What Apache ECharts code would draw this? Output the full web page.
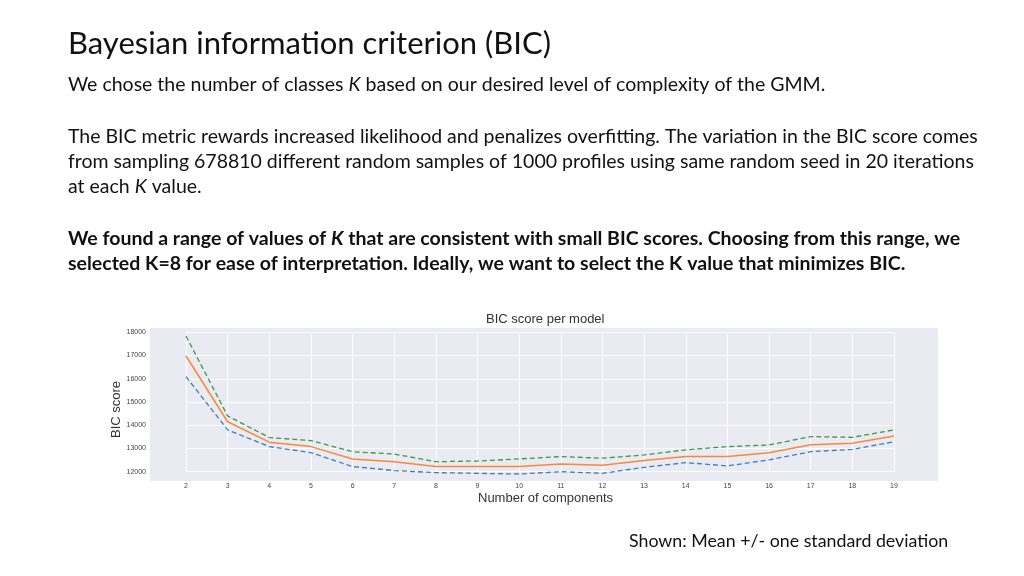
<!DOCTYPE html><html><head><meta charset="utf-8"><script src="https://cdn.jsdelivr.net/npm/echarts@6/dist/echarts.min.js"></script>
<style>html,body{margin:0;padding:0;background:#fff}#c{width:1024px;height:576px}</style></head><body><div id="c"></div><script>
const components=[2,3,4,5,6,7,8,9,10,11,12,13,14,15,16,17,18,19];
const meanBIC=[16980,14150,13270,13080,12550,12430,12220,12220,12220,12330,12280,12480,12650,12650,12820,13160,13220,13540];
const lowerBIC=[16090,13800,13080,12820,12220,12050,11960,11930,11900,12000,11930,12190,12390,12250,12510,12860,12960,13290];
const upperBIC=[17840,14400,13470,13340,12860,12760,12430,12460,12550,12650,12580,12720,12940,13080,13150,13510,13480,13800];
const pair=a=>components.map((k,i)=>[k,a[i]]);
const F='Lato, "Open Sans", sans-serif';
const FS=19.5;
const body=(t,y,b)=>({type:'text',left:68,top:y,style:{text:t,font:(b?'bold ':'')+FS+'px '+F,fill:'#111',
 rich:{i:{fontStyle:'italic',fontWeight:b?'bold':'normal',fontSize:FS,fontFamily:F,fill:'#111'}}}});
const ch=echarts.init(document.getElementById('c'));
ch.setOption({
animation:false,
graphic:[
{type:'text',left:68,top:28,style:{text:'Bayesian information criterion (BIC)',font:'31px '+F,fill:'#111'}},
body('We chose the number of classes {i|K} based on our desired level of complexity of the GMM.',75),
body('The BIC metric rewards increased likelihood and penalizes overfitting. The variation in the BIC score comes',127),
body('from sampling 678810 different random samples of 1000 profiles using same random seed in 20 iterations',152),
body('at each {i|K} value.',177),
body('We found a range of values of {i|K} that are consistent with small BIC scores. Choosing from this range, we',229,true),
body('selected K=8 for ease of interpretation. Ideally, we want to select the K value that minimizes BIC.',254,true),
{type:'text',left:629,top:532,style:{text:'Shown: Mean +/- one standard deviation',font:'17.8px '+F,fill:'#111'}},
{type:'rect',z:-10,shape:{x:150,y:328,width:788,height:153},style:{fill:'#eaeaf2'}},
{type:'text',left:486,top:313,style:{text:'BIC score per model',font:'13px "Liberation Sans", Arial',fill:'#333'}},
{type:'text',left:478,top:492,style:{text:'Number of components',font:'13px "Liberation Sans", Arial',fill:'#333'}},
{type:'text',x:110,y:438,rotation:Math.PI/2,style:{text:'BIC score',font:'13px "Liberation Sans", Arial',fill:'#333'}}
],
grid:{left:186,right:1024-894,top:332.3,bottom:576-471.7},
xAxis:{type:'value',min:2,max:19,interval:1,axisLine:{show:false},axisTick:{show:false},
 axisLabel:{fontSize:7,color:'#444',margin:11},splitLine:{lineStyle:{color:'#fff',width:1}}},
yAxis:{type:'value',min:12000,max:18000,interval:1000,axisLine:{show:false},axisTick:{show:false},
 axisLabel:{fontSize:7,color:'#444',margin:40,formatter:v=>String(v)},splitLine:{lineStyle:{color:'#fff',width:1}}},
series:[
{type:'line',clip:false,data:pair(lowerBIC),symbol:'none',lineStyle:{color:'#3a7fc0',width:1.3,type:[5,3]}},
{type:'line',clip:false,data:pair(meanBIC),symbol:'none',lineStyle:{color:'#f58a3c',width:1.5}},
{type:'line',clip:false,data:pair(upperBIC),symbol:'none',lineStyle:{color:'#3a9a48',width:1.3,type:[5,3]}}
]});
</script></body></html>
